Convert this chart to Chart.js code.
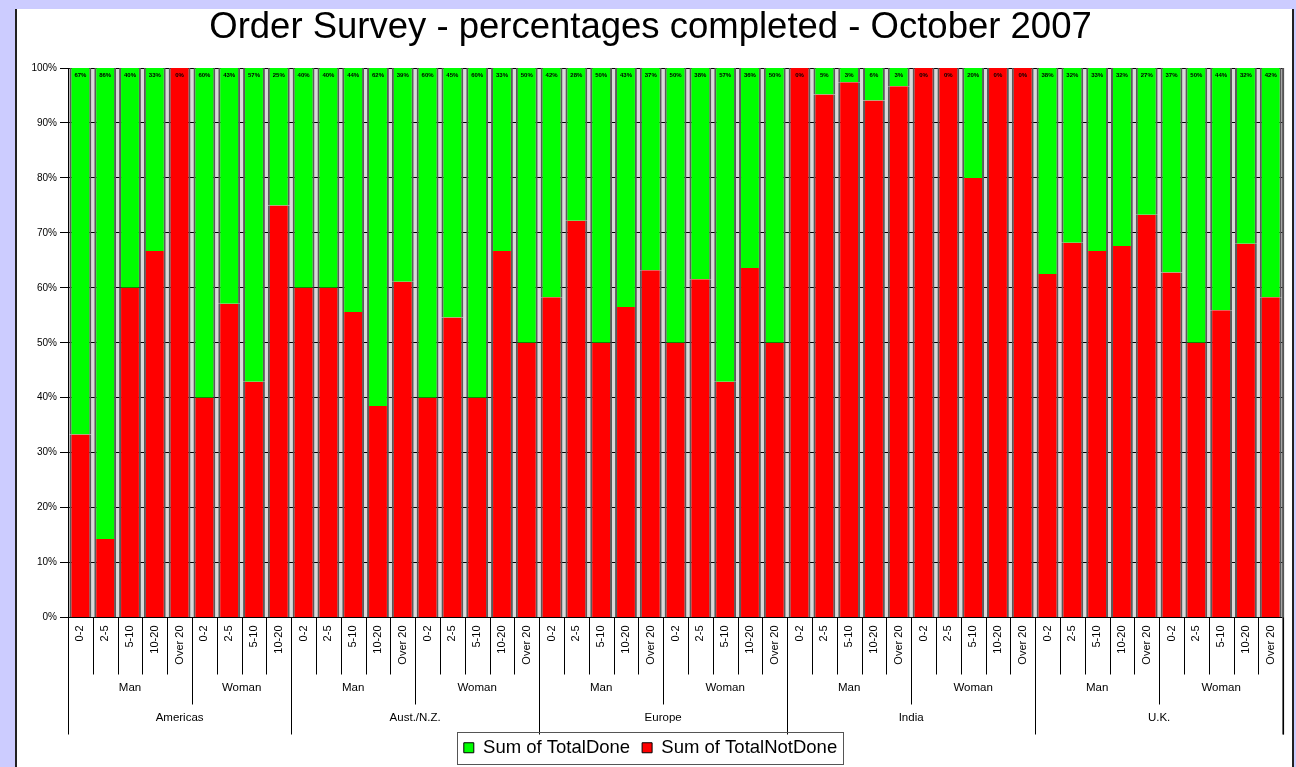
<!DOCTYPE html>
<html>
<head>
<meta charset="utf-8">
<script src="https://cdn.jsdelivr.net/npm/chart.js@4.4.1/dist/chart.umd.min.js"></script>
<style>
  html, body { margin: 0; padding: 0; }
  body { width: 1296px; height: 767px; overflow: hidden; background: #CCCCFF; position: relative; }
  #panel { position: absolute; left: 15px; top: 9px; width: 1275px; height: 758px; background: #fff;
           border-left: 2px solid #222; border-right: 2px solid #222; }
  canvas { display: block; }
</style>
</head>
<body>
<div id="panel"><canvas id="c" width="1275" height="758"></canvas></div>
<script>
// ---- data ----
const barRegion = [
  'Americas','Americas','Americas','Americas','Americas','Americas','Americas','Americas','Americas',
  'Aust./N.Z.','Aust./N.Z.','Aust./N.Z.','Aust./N.Z.','Aust./N.Z.','Aust./N.Z.','Aust./N.Z.','Aust./N.Z.','Aust./N.Z.','Aust./N.Z.',
  'Europe','Europe','Europe','Europe','Europe','Europe','Europe','Europe','Europe','Europe',
  'India','India','India','India','India','India','India','India','India','India',
  'U.K.','U.K.','U.K.','U.K.','U.K.','U.K.','U.K.','U.K.','U.K.','U.K.'
];
const barGender = [
  'Man','Man','Man','Man','Man','Woman','Woman','Woman','Woman',
  'Man','Man','Man','Man','Man','Woman','Woman','Woman','Woman','Woman',
  'Man','Man','Man','Man','Man','Woman','Woman','Woman','Woman','Woman',
  'Man','Man','Man','Man','Man','Woman','Woman','Woman','Woman','Woman',
  'Man','Man','Man','Man','Man','Woman','Woman','Woman','Woman','Woman'
];
const ageLabels = [
  '0-2','2-5','5-10','10-20','Over 20','0-2','2-5','5-10','10-20',
  '0-2','2-5','5-10','10-20','Over 20','0-2','2-5','5-10','10-20','Over 20',
  '0-2','2-5','5-10','10-20','Over 20','0-2','2-5','5-10','10-20','Over 20',
  '0-2','2-5','5-10','10-20','Over 20','0-2','2-5','5-10','10-20','Over 20',
  '0-2','2-5','5-10','10-20','Over 20','0-2','2-5','5-10','10-20','Over 20'
];
const totalNotDone = [
  33.3, 14.3, 60, 66.7, 100, 40, 57.1, 42.9, 75,
  60, 60, 55.6, 38.5, 61.1, 40, 54.6, 40, 66.7, 50,
  58.3, 72.2, 50, 56.52, 63.2, 50, 61.54, 42.9, 63.6, 50,
  100, 95.2, 97.4, 94.1, 96.7, 100, 100, 80, 100, 100,
  62.5, 68.2, 66.7, 67.6, 73.3, 62.8, 50, 55.9, 68, 58.3
];
const totalDone = [
  66.7, 85.7, 40, 33.3, 0, 60, 42.9, 57.1, 25,
  40, 40, 44.4, 61.5, 38.9, 60, 45.4, 60, 33.3, 50,
  41.7, 27.8, 50, 43.48, 36.8, 50, 38.46, 57.1, 36.4, 50,
  0, 4.8, 2.6, 5.9, 3.3, 0, 0, 20, 0, 0,
  37.5, 31.8, 33.3, 32.4, 26.7, 37.2, 50, 44.1, 32, 41.7
];
const yTicks = [0, 10, 20, 30, 40, 50, 60, 70, 80, 90, 100];

const FONT = "'Liberation Sans', Arial, Helvetica, sans-serif";
Chart.defaults.font.family = FONT;
Chart.defaults.color = '#000';

const decor = {
  id: 'decor',
  beforeDraw(chart) {
    const {ctx, chartArea: a} = chart;
    ctx.save();
    ctx.fillStyle = '#D9D9D9';
    ctx.fillRect(a.left, a.top, a.right - a.left, a.bottom - a.top);
    ctx.restore();
  },
  afterDraw(chart) {
    const {ctx, chartArea: a} = chart;
    const xs = chart.scales.x, ys = chart.scales.y;
    const n = ageLabels.length;
    const half = (xs.getPixelForValue(1) - xs.getPixelForValue(0)) / 2;
    ctx.save();
    // value labels at bar tops
    ctx.fillStyle = '#000';
    ctx.font = 'bold 6px ' + FONT;
    ctx.textAlign = 'center';
    ctx.textBaseline = 'middle';
    const topY = ys.getPixelForValue(100);
    totalDone.forEach((v, i) => {
      ctx.fillText(Math.round(v) + '%', xs.getPixelForValue(i), topY + 7);
    });
    // right border of plot
    ctx.strokeStyle = '#555';
    ctx.lineWidth = 2;
    ctx.beginPath();
    ctx.moveTo(a.right, a.top);
    ctx.lineTo(a.right, a.bottom + 117);
    ctx.stroke();
    // separators
    ctx.strokeStyle = '#000';
    ctx.lineWidth = 1;
    for (let i = 0; i <= n; i++) {
      const px = Math.round(i < n ? xs.getPixelForValue(i) - half : xs.getPixelForValue(n - 1) + half) + 0.5;
      let len = 57;
      if (i === 0 || i === n || barRegion[i] !== barRegion[i - 1]) len = 117;
      else if (barGender[i] !== barGender[i - 1]) len = 87;
      ctx.beginPath();
      ctx.moveTo(px, a.bottom);
      ctx.lineTo(px, a.bottom + len);
      ctx.stroke();
    }
    // group labels
    ctx.font = '11.5px ' + FONT;
    ctx.textBaseline = 'middle';
    const runs = (keyFn) => {
      const out = [];
      let s = 0;
      for (let i = 1; i <= n; i++) {
        if (i === n || keyFn(i) !== keyFn(s)) { out.push([s, i - 1]); s = i; }
      }
      return out;
    };
    runs(i => barRegion[i] + '|' + barGender[i]).forEach(([s, e]) => {
      const cx = (xs.getPixelForValue(s) + xs.getPixelForValue(e)) / 2;
      ctx.fillText(barGender[s], cx, a.bottom + 70);
    });
    runs(i => barRegion[i]).forEach(([s, e]) => {
      const cx = (xs.getPixelForValue(s) + xs.getPixelForValue(e)) / 2;
      ctx.fillText(barRegion[s], cx, a.bottom + 100.5);
    });
    // legend frame
    const lg = chart.legend;
    if (lg && lg.legendHitBoxes && lg.legendHitBoxes.length) {
      const hb = lg.legendHitBoxes;
      const l = Math.min(...hb.map(h => h.left)) - 7;
      const r = Math.max(...hb.map(h => h.left + h.width)) + 6;
      const cy = hb[0].top + hb[0].height / 2;
      ctx.strokeStyle = '#555';
      ctx.lineWidth = 1;
      ctx.strokeRect(Math.round(l) + 0.5, Math.round(cy - 16) + 0.5, Math.round(r - l), 32);
    }
    ctx.restore();
  }
};

new Chart(document.getElementById('c'), {
  type: 'bar',
  data: {
    labels: ageLabels,
    datasets: [
      {
        label: 'Sum of TotalNotDone',
        data: totalNotDone,
        backgroundColor: '#FF0000',
        borderColor: '#5a5a5a',
        borderWidth: {left: 2, right: 2, top: 0, bottom: 0},
        borderSkipped: false,
        categoryPercentage: 1,
        barPercentage: 0.88
      },
      {
        label: 'Sum of TotalDone',
        data: totalDone,
        backgroundColor: '#00FF00',
        borderColor: '#5a5a5a',
        borderWidth: {left: 2, right: 2, top: 0, bottom: 0},
        borderSkipped: false,
        categoryPercentage: 1,
        barPercentage: 0.88
      }
    ]
  },
  options: {
    responsive: false,
    devicePixelRatio: 1,
    animation: false,
    layout: { padding: { left: 0, right: 8, top: 0, bottom: 0 } },
    scales: {
      x: {
        stacked: true,
        afterFit(scale) { scale.height = 109; },
        grid: { display: false, drawTicks: false },
        border: { display: true, color: '#000', width: 1 },
        ticks: {
          autoSkip: false, minRotation: 90, maxRotation: 90, padding: 8,
          font: { size: 11 }, color: '#000'
        }
      },
      y: {
        stacked: true,
        min: 0, max: 100,
        afterFit(scale) { scale.width = 51; },
        afterBuildTicks(scale) { scale.ticks = yTicks.map(v => ({ value: v })); },
        grid: { color: '#000', lineWidth: 1, tickLength: 8, drawTicks: true },
        border: { display: true, color: '#000', width: 1 },
        ticks: { padding: 3, font: { size: 10 }, color: '#000', callback: v => v + '%' }
      }
    },
    plugins: {
      title: {
        display: true,
        text: 'Order Survey - percentages completed - October 2007',
        color: '#000',
        font: { size: 36.5, weight: 'normal', lineHeight: 1 },
        padding: { top: 1, bottom: 21.5 }
      },
      legend: {
        display: true,
        position: 'bottom',
        reverse: true,
        labels: {
          boxWidth: 10, boxHeight: 10, padding: 12,
          font: { size: 18.5 }, color: '#000',
          generateLabels(chart) {
            const items = Chart.defaults.plugins.legend.labels.generateLabels(chart);
            items.forEach(it => { it.strokeStyle = '#000'; it.lineWidth = 1; });
            return items;
          }
        }
      },
      tooltip: { enabled: false }
    }
  },
  plugins: [decor]
});
</script>
</body>
</html>
